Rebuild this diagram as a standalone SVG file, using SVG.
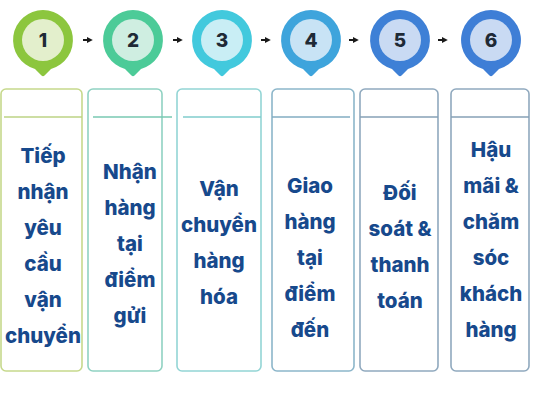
<svg xmlns="http://www.w3.org/2000/svg" width="533" height="400" viewBox="0 0 533 400">
<style>
.num{font-family:Inter,"Noto Sans","DejaVu Sans",sans-serif;font-weight:800;font-size:19px;fill:#1f2a36;text-anchor:middle}
.lbl{font-family:Inter,"Noto Sans","DejaVu Sans",sans-serif;font-weight:800;font-size:20.5px;fill:#17498c;text-anchor:middle}
.box{fill:#ffffff;stroke-width:1.6}
.sep{stroke-width:1.6}
.arr{stroke:#1a1a1a;stroke-width:2}
</style>
<defs>
<marker id="ah" viewBox="0 0 10 10" refX="2" refY="5" markerWidth="3" markerHeight="3" orient="auto">
<path d="M0,0 L10,5 L0,10 Z" fill="#1a1a1a"/>
</marker>
<path id="pin" d="M0,-30 A30,30 0 0 1 8,28.9 L1.5,35.5 Q0,37 -1.5,35.5 L-8,28.9 A30,30 0 0 1 0,-30 Z"/>
</defs>
<rect width="533" height="400" fill="#ffffff"/>
<g id="connectors">
<line class="arr" x1="83" y1="40" x2="88" y2="40" marker-end="url(#ah)"/>
<line class="arr" x1="173" y1="40" x2="178" y2="40" marker-end="url(#ah)"/>
<line class="arr" x1="261" y1="40" x2="266" y2="40" marker-end="url(#ah)"/>
<line class="arr" x1="349" y1="40" x2="354" y2="40" marker-end="url(#ah)"/>
<line class="arr" x1="438" y1="40" x2="443" y2="40" marker-end="url(#ah)"/>
</g>
<g id="node1">
<use href="#pin" x="43" y="40" fill="#8cc63e"/>
<circle cx="43" cy="40" r="21" fill="#e3efcc"/>
<text class="num" x="43" y="47">1</text>
<rect class="box" x="1" y="89" width="81" height="282" rx="5" stroke="#c6d98c"/>
<line class="sep" x1="4" y1="117" x2="82" y2="117" stroke="#bcd384"/>
<text class="lbl" x="43" y="163">Tiếp</text>
<text class="lbl" x="43" y="199">nhận</text>
<text class="lbl" x="43" y="235">yêu</text>
<text class="lbl" x="43" y="271">cầu</text>
<text class="lbl" x="43" y="307">vận</text>
<text class="lbl" x="43" y="343">chuyển</text>
</g>
<g id="node2">
<use href="#pin" x="133" y="40" fill="#4ccb98"/>
<circle cx="133" cy="40" r="21" fill="#cfeee1"/>
<text class="num" x="133" y="47">2</text>
<rect class="box" x="88" y="89" width="74" height="282" rx="5" stroke="#90d2c2"/>
<line class="sep" x1="93" y1="117" x2="172" y2="117" stroke="#78c8b2"/>
<text class="lbl" x="130" y="179">Nhận</text>
<text class="lbl" x="130" y="215">hàng</text>
<text class="lbl" x="130" y="251">tại</text>
<text class="lbl" x="130" y="287">điểm</text>
<text class="lbl" x="130" y="323">gửi</text>
</g>
<g id="node3">
<use href="#pin" x="222" y="40" fill="#42c9dd"/>
<circle cx="222" cy="40" r="21" fill="#c9eef5"/>
<text class="num" x="222" y="47">3</text>
<rect class="box" x="177" y="89" width="84" height="282" rx="5" stroke="#93d5d5"/>
<line class="sep" x1="183" y1="117" x2="261" y2="117" stroke="#80cccc"/>
<text class="lbl" x="219" y="196">Vận</text>
<text class="lbl" x="219" y="232">chuyển</text>
<text class="lbl" x="219" y="268">hàng</text>
<text class="lbl" x="219" y="304">hóa</text>
</g>
<g id="node4">
<use href="#pin" x="311" y="40" fill="#3ea4dc"/>
<circle cx="311" cy="40" r="21" fill="#c8e3f5"/>
<text class="num" x="311" y="47">4</text>
<rect class="box" x="272" y="89" width="82" height="282" rx="5" stroke="#8cb6ca"/>
<line class="sep" x1="272" y1="117" x2="350" y2="117" stroke="#82adc2"/>
<text class="lbl" x="310" y="193">Giao</text>
<text class="lbl" x="310" y="229">hàng</text>
<text class="lbl" x="310" y="265">tại</text>
<text class="lbl" x="310" y="301">điểm</text>
<text class="lbl" x="310" y="337">đến</text>
</g>
<g id="node5">
<use href="#pin" x="400" y="40" fill="#3e80d6"/>
<circle cx="400" cy="40" r="21" fill="#c9daf3"/>
<text class="num" x="400" y="47">5</text>
<rect class="box" x="360" y="89" width="78" height="282" rx="5" stroke="#90a9be"/>
<line class="sep" x1="360" y1="117" x2="438" y2="117" stroke="#86a0b6"/>
<text class="lbl" x="400" y="200">Đối</text>
<text class="lbl" x="400" y="236">soát &amp;</text>
<text class="lbl" x="400" y="272">thanh</text>
<text class="lbl" x="400" y="308">toán</text>
</g>
<g id="node6">
<use href="#pin" x="491" y="40" fill="#3e7ed6"/>
<circle cx="491" cy="40" r="21" fill="#c9daf3"/>
<text class="num" x="491" y="47">6</text>
<rect class="box" x="451" y="89" width="78" height="282" rx="5" stroke="#90a9be"/>
<line class="sep" x1="451" y1="117" x2="529" y2="117" stroke="#86a0b6"/>
<text class="lbl" x="491" y="157">Hậu</text>
<text class="lbl" x="491" y="193">mãi &amp;</text>
<text class="lbl" x="491" y="229">chăm</text>
<text class="lbl" x="491" y="265">sóc</text>
<text class="lbl" x="491" y="301">khách</text>
<text class="lbl" x="491" y="337">hàng</text>
</g>
</svg>
